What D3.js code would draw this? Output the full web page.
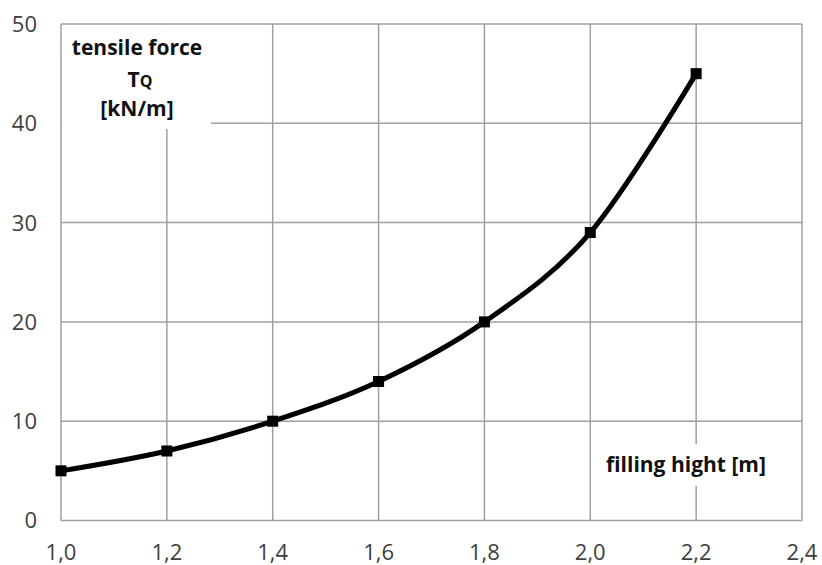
<!DOCTYPE html>
<html>
<head>
<meta charset="utf-8">
<script src="https://cdn.jsdelivr.net/npm/d3@7"></script>
<style>
  body { margin: 0; background: #fff; }
  text { font-family: "Open Sans", sans-serif; }
</style>
</head>
<body>
<div id="chart"></div>
<script>
const heights = [1.0, 1.2, 1.4, 1.6, 1.8, 2.0, 2.2]
const forces = [5, 7, 10, 14, 20, 29, 45]
const xTicks = [1.0, 1.2, 1.4, 1.6, 1.8, 2.0, 2.2, 2.4]
const yTicks = [0, 10, 20, 30, 40, 50]

function draw_chart() {
    const width = 822, height = 565
    const margins = {'left': 61, 'right': 20, 'top': 24, 'bottom': 44.5}

    const svg = d3.select('#chart').append('svg')
        .attr('width', width).attr('height', height)

    const x = d3.scaleLinear().domain([1.0, 2.4]).range([margins.left, width - margins.right])
    const y = d3.scaleLinear().domain([0, 50]).range([height - margins.bottom, margins.top])
    const fmt = (d) => d.toFixed(1).replace('.', ',')

    const grid = '#a0a0a0'

    // gridlines
    svg.append('g').selectAll('line').data(xTicks).join('line')
        .attr('x1', (d) => x(d)).attr('x2', (d) => x(d))
        .attr('y1', y(0)).attr('y2', y(50))
        .attr('stroke', grid).attr('stroke-width', 1.5)
    svg.append('g').selectAll('line').data(yTicks).join('line')
        .attr('x1', x(1.0)).attr('x2', x(2.4))
        .attr('y1', (d) => y(d)).attr('y2', (d) => y(d))
        .attr('stroke', grid).attr('stroke-width', 1.5)

    // tick labels
    svg.append('g').selectAll('text').data(yTicks).join('text')
        .attr('x', x(1.0) - 24).attr('y', (d) => y(d)).attr('dy', '0.36em')
        .attr('text-anchor', 'end').attr('font-size', 22).attr('fill', '#404040')
        .text((d) => d)
    svg.append('g').selectAll('text').data(xTicks).join('text')
        .attr('x', (d) => x(d)).attr('y', y(0) + 32).attr('dy', '0.36em')
        .attr('text-anchor', 'middle').attr('font-size', 22).attr('fill', '#404040')
        .text(fmt)

    // label boxes hiding the grid
    svg.append('rect').attr('x', x(1.0) + 1).attr('y', y(50) + 1)
        .attr('width', 149).attr('height', 104).attr('fill', '#fff')
    svg.append('rect').attr('x', 598).attr('y', 444)
        .attr('width', 190).attr('height', 42).attr('fill', '#fff')

    const yl = svg.append('text').attr('font-weight', 'bold').attr('font-size', 21)
        .attr('fill', '#111').attr('text-anchor', 'middle')
    yl.append('tspan').attr('x', 137).attr('y', 55).text('tensile force')
    const t = yl.append('tspan').attr('x', 140).attr('y', 87)
    t.append('tspan').text('T')
    t.append('tspan').attr('font-size', 16).text('Q')
    yl.append('tspan').attr('x', 137).attr('y', 116).text('[kN/m]')

    svg.append('text').attr('font-weight', 'bold').attr('font-size', 21)
        .attr('fill', '#111').attr('text-anchor', 'middle')
        .attr('x', 686).attr('y', 472).text('filling hight [m]')

    // curve
    const pts = heights.map((h, i) => [h, forces[i]])
    const line = d3.line().x((d) => x(d[0])).y((d) => y(d[1])).curve(d3.curveCardinal)
    svg.append('path').datum(pts).attr('d', line)
        .attr('fill', 'none').attr('stroke', '#000').attr('stroke-width', 5)

    svg.append('g').selectAll('rect').data(pts).join('rect')
        .attr('x', (d) => x(d[0]) - 5.5).attr('y', (d) => y(d[1]) - 5.5)
        .attr('width', 11).attr('height', 11).attr('fill', '#000')
}

draw_chart()
</script>
</body>
</html>
